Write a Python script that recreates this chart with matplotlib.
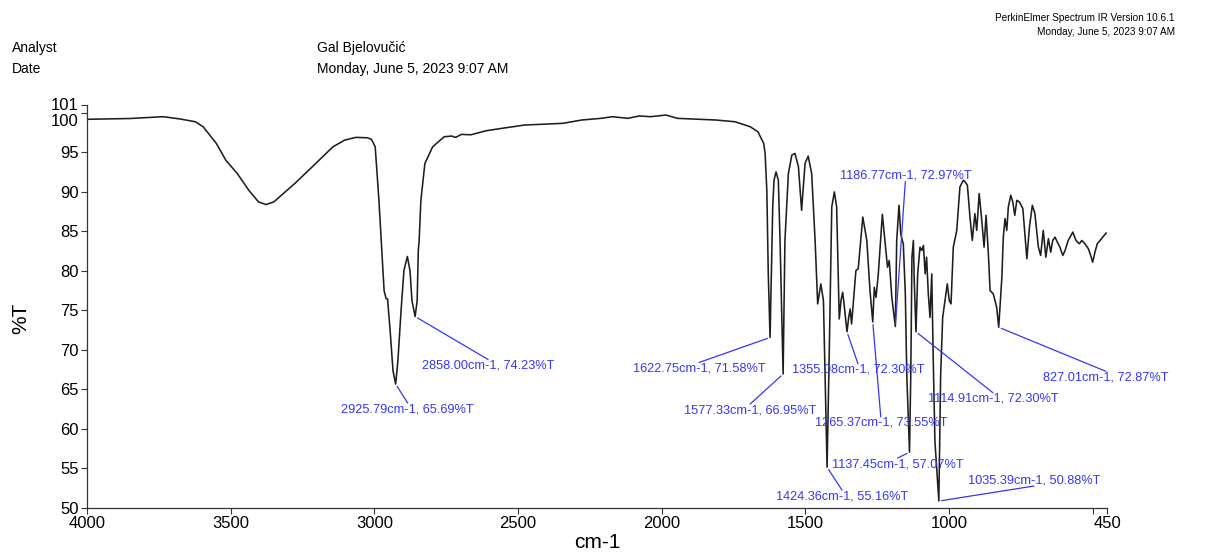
import matplotlib
matplotlib.use('Agg')
import matplotlib.pyplot as plt
from matplotlib.transforms import ScaledTranslation

plt.rcParams['font.family'] = ['Liberation Sans', 'DejaVu Sans']

# ---- spectrum (wavenumber cm-1, %T) ----
wavenumber = [4000, 3850, 3735, 3676, 3623, 3596, 3550, 3517, 3477, 3437, 3403, 3377, 3350,
              3277, 3210, 3144, 3103, 3064, 3024, 3010, 2997, 2984, 2974, 2966, 2959, 2954,
              2945, 2935, 2925.79, 2918, 2907, 2897, 2885, 2876, 2869, 2858.00, 2851, 2847,
              2844, 2838, 2824, 2797, 2757, 2731, 2717, 2697, 2664, 2611, 2557, 2478, 2344,
              2278, 2211, 2171, 2118, 2078, 2038, 1985, 1945, 1812, 1745, 1692, 1665, 1645,
              1640, 1634, 1629, 1622.75, 1613.5, 1609, 1602, 1594, 1588, 1577.33, 1571, 1559,
              1547, 1536, 1524, 1513, 1501, 1490, 1478, 1466, 1457, 1446, 1437, 1424.36, 1416,
              1408, 1399, 1391, 1385, 1382, 1376, 1370, 1364, 1355.08, 1349, 1344, 1339, 1324,
              1316, 1300, 1286, 1275, 1265.37, 1260, 1254, 1246, 1232, 1223, 1217, 1214, 1208,
              1199, 1186.77, 1182, 1174, 1168, 1162.5, 1159, 1152, 1147, 1137.45, 1133, 1129,
              1124, 1121, 1114.91, 1109, 1101, 1095, 1089, 1083, 1078, 1072, 1066, 1060, 1055,
              1049, 1035.39, 1029, 1022, 1014, 1006, 999, 993, 985, 973, 962, 950, 944, 936,
              927, 919, 910, 903.5, 895, 886, 878, 871, 863, 857, 846, 834, 827.01, 816, 811,
              805, 799, 793.5, 785, 778, 771, 764, 755, 743, 729, 720, 710, 701, 689, 681, 672,
              663, 654, 646, 639, 631, 623, 614, 604, 596, 585, 569, 558, 546, 538, 527, 515,
              507, 500, 492, 484, 474, 465, 453]
transmittance = [99.19, 99.29, 99.52, 99.23, 98.88, 98.25, 96.14, 94.02, 92.33, 90.21, 88.73,
                 88.40, 88.73, 91.06, 93.39, 95.71, 96.56, 96.90, 96.85, 96.65, 95.71, 88.94,
                 82.59, 77.51, 76.50, 76.45, 72.44, 67.36, 65.69, 68.63, 74.97, 80.05, 81.83,
                 80.05, 76.24, 74.23, 76.24, 82.59, 83.86, 88.94, 93.60, 95.71, 96.98, 97.07,
                 96.90, 97.28, 97.23, 97.74, 98.04, 98.46, 98.68, 99.10, 99.31, 99.52, 99.31,
                 99.61, 99.52, 99.73, 99.31, 99.10, 98.88, 98.25, 97.61, 96.14, 94.87, 90.21,
                 79.67, 71.58, 88.09, 91.48, 92.53, 91.48, 83.86, 66.95, 83.86, 92.33, 94.66,
                 94.87, 93.17, 87.67, 93.60, 94.53, 92.33, 83.86, 75.83, 78.36, 76.24, 55.16,
                 71.17, 88.09, 90.00, 88.09, 78.78, 73.92, 76.24, 77.30, 75.39, 72.30, 74.12,
                 75.19, 73.29, 80.05, 80.27, 86.82, 83.86, 77.51, 73.55, 77.93, 76.66, 79.63,
                 87.16, 83.86, 81.74, 80.47, 81.32, 76.66, 72.97, 83.86, 88.31, 84.71, 83.86,
                 83.44, 77.10, 66.94, 57.07, 66.94, 81.74, 83.86, 78.78, 72.30, 79.63, 83.01,
                 82.59, 83.23, 79.63, 81.74, 77.10, 74.12, 79.63, 69.05, 58.47, 50.88, 66.94,
                 74.12, 76.24, 78.36, 76.24, 75.83, 83.01, 85.13, 90.63, 91.48, 91.27, 90.85,
                 86.82, 83.86, 87.25, 85.13, 89.79, 86.40, 83.01, 87.04, 82.17, 77.51, 77.10,
                 75.39, 72.87, 79.20, 84.28, 86.62, 85.13, 88.09, 89.58, 88.73, 87.04, 88.94,
                 88.73, 87.89, 81.54, 85.55, 88.31, 87.25, 83.01, 81.96, 85.13, 81.74, 84.08,
                 82.38, 83.86, 84.28, 83.65, 83.01, 81.96, 82.59, 83.86, 84.92, 83.86, 83.44,
                 83.86, 83.44, 82.81, 81.96, 81.11, 82.38, 83.44, 83.86, 84.28, 84.79]

# picked peaks
peak_wn = [2925.79, 2858.00, 1622.75, 1577.33, 1424.36, 1355.08,
           1265.37, 1186.77, 1137.45, 1114.91, 1035.39, 827.01]
peak_T = [65.69, 74.23, 71.58, 66.95, 55.16, 72.30,
          73.55, 72.97, 57.07, 72.30, 50.88, 72.87]

x_ticks = [4000, 3500, 3000, 2500, 2000, 1500, 1000, 500, 450]
x_ticklabels = ['4000', '3500', '3000', '2500', '2000', '1500', '1000', '', '450']
y_ticks = [50, 55, 60, 65, 70, 75, 80, 85, 90, 95, 100, 101]

blue = '#3535f8'

fig = plt.figure(figsize=(12.05, 5.52), dpi=100)
ax = fig.add_axes([0.0722, 0.0797, 0.8465, 0.7301])

ax.plot(wavenumber, transmittance, color='#1e1e1e', lw=1.15)

# label offsets in pixels (dx, dy) and which side of the text the line meets
label_pos = [(12, -19, 'top'), (73, -43, 'top'), (-71, -25, 'top'), (-33, -30, 'top'),
             (15, -23, 'top'), (11, -32, 'top'), (8, -95, 'top'), (10, 145, 'bottom'),
             (-12, -6, 'top'), (77, -61, 'top'), (95, 15, 'bottom'), (107, -44, 'top')]
for wn, t, (dx, dy, va) in zip(peak_wn, peak_T, label_pos):
    ax.annotate('%.2fcm-1, %.2f%%T' % (wn, t), xy=(wn, t), xytext=(dx, dy),
                textcoords='offset pixels', ha='center', va=va, fontsize=9.2,
                color=blue, zorder=4,
                arrowprops=dict(arrowstyle='-', color=blue, lw=0.9, shrinkA=0, shrinkB=2,
                                patchA=None, relpos=(0.5, 1.0 if va == 'top' else 0.0)))

ax.set_xlim(4000, 450)
ax.set_ylim(50, 101)
ax.set_xticks(x_ticks)
ax.set_xticklabels(x_ticklabels)
ax.set_yticks(y_ticks)
ax.set_yticklabels([str(v) for v in y_ticks])
ax.tick_params(axis='both', labelsize=12, length=4, width=0.8, pad=2, color='#333333')

for side in ['top', 'right']:
    ax.spines[side].set_visible(False)
for side in ['left', 'bottom']:
    ax.spines[side].set_linewidth(0.9)
    ax.spines[side].set_color('#333333')

# keep 100 and 101 labels from running into each other
for lab in ax.get_yticklabels():
    if lab.get_text() == '100':
        lab.set_transform(lab.get_transform() + ScaledTranslation(0, -7 / 100, fig.dpi_scale_trans))
    elif lab.get_text() == '101':
        lab.set_transform(lab.get_transform() + ScaledTranslation(0, 1 / 100, fig.dpi_scale_trans))

ax.set_xlabel('cm-1', fontsize=15, labelpad=1)
ax.set_ylabel('%T', fontsize=15)
ax.yaxis.set_label_coords(-0.056, 0.47)

# header block
fig.text(0.010, 0.913, 'Analyst', fontsize=10, va='center')
fig.text(0.010, 0.875, 'Date', fontsize=10, va='center')
fig.text(0.263, 0.913, 'Gal Bjelovučić', fontsize=10, va='center')
fig.text(0.263, 0.875, 'Monday, June 5, 2023 9:07 AM', fontsize=10, va='center')
fig.text(0.975, 0.967, 'PerkinElmer Spectrum IR Version 10.6.1', fontsize=7.2, ha='right', va='center')
fig.text(0.975, 0.942, 'Monday, June 5, 2023 9:07 AM', fontsize=7.2, ha='right', va='center')

fig.savefig('out.png', dpi=100)
